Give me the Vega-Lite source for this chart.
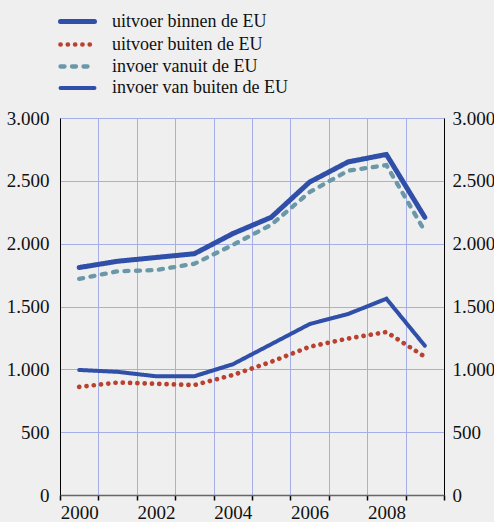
{
  "$schema": "https://vega.github.io/schema/vega-lite/v6.json",
  "width": 384,
  "height": 377,
  "autosize": "none",
  "padding": {"left": 60, "top": 118, "right": 50, "bottom": 27},
  "background": "#efefef",
  "config": {
    "view": {"stroke": null},
    "font": "Liberation Serif",
    "axis": {
      "labelFont": "Liberation Serif",
      "labelFontSize": 19,
      "labelColor": "#111111",
      "domainColor": "#000000",
      "gridColor": "#a6aee8",
      "gridOpacity": 1,
      "gridWidth": 1,
      "title": null
    }
  },
  "data": {
    "values": [
      {"jaar": 2000, "reeks": "uitvoer binnen de EU", "waarde": 1810},
      {"jaar": 2001, "reeks": "uitvoer binnen de EU", "waarde": 1860},
      {"jaar": 2002, "reeks": "uitvoer binnen de EU", "waarde": 1890},
      {"jaar": 2003, "reeks": "uitvoer binnen de EU", "waarde": 1920},
      {"jaar": 2004, "reeks": "uitvoer binnen de EU", "waarde": 2080},
      {"jaar": 2005, "reeks": "uitvoer binnen de EU", "waarde": 2210},
      {"jaar": 2006, "reeks": "uitvoer binnen de EU", "waarde": 2490},
      {"jaar": 2007, "reeks": "uitvoer binnen de EU", "waarde": 2650},
      {"jaar": 2008, "reeks": "uitvoer binnen de EU", "waarde": 2710},
      {"jaar": 2009, "reeks": "uitvoer binnen de EU", "waarde": 2210},
      {"jaar": 2000, "reeks": "uitvoer buiten de EU", "waarde": 860},
      {"jaar": 2001, "reeks": "uitvoer buiten de EU", "waarde": 895},
      {"jaar": 2002, "reeks": "uitvoer buiten de EU", "waarde": 885},
      {"jaar": 2003, "reeks": "uitvoer buiten de EU", "waarde": 875},
      {"jaar": 2004, "reeks": "uitvoer buiten de EU", "waarde": 955},
      {"jaar": 2005, "reeks": "uitvoer buiten de EU", "waarde": 1060},
      {"jaar": 2006, "reeks": "uitvoer buiten de EU", "waarde": 1180},
      {"jaar": 2007, "reeks": "uitvoer buiten de EU", "waarde": 1245},
      {"jaar": 2008, "reeks": "uitvoer buiten de EU", "waarde": 1297},
      {"jaar": 2009, "reeks": "uitvoer buiten de EU", "waarde": 1100},
      {"jaar": 2000, "reeks": "invoer vanuit de EU", "waarde": 1720},
      {"jaar": 2001, "reeks": "invoer vanuit de EU", "waarde": 1780},
      {"jaar": 2002, "reeks": "invoer vanuit de EU", "waarde": 1790},
      {"jaar": 2003, "reeks": "invoer vanuit de EU", "waarde": 1840},
      {"jaar": 2004, "reeks": "invoer vanuit de EU", "waarde": 1990},
      {"jaar": 2005, "reeks": "invoer vanuit de EU", "waarde": 2150},
      {"jaar": 2006, "reeks": "invoer vanuit de EU", "waarde": 2410},
      {"jaar": 2007, "reeks": "invoer vanuit de EU", "waarde": 2580},
      {"jaar": 2008, "reeks": "invoer vanuit de EU", "waarde": 2625},
      {"jaar": 2009, "reeks": "invoer vanuit de EU", "waarde": 2100},
      {"jaar": 2000, "reeks": "invoer van buiten de EU", "waarde": 995},
      {"jaar": 2001, "reeks": "invoer van buiten de EU", "waarde": 980},
      {"jaar": 2002, "reeks": "invoer van buiten de EU", "waarde": 945},
      {"jaar": 2003, "reeks": "invoer van buiten de EU", "waarde": 945},
      {"jaar": 2004, "reeks": "invoer van buiten de EU", "waarde": 1040},
      {"jaar": 2005, "reeks": "invoer van buiten de EU", "waarde": 1200},
      {"jaar": 2006, "reeks": "invoer van buiten de EU", "waarde": 1360},
      {"jaar": 2007, "reeks": "invoer van buiten de EU", "waarde": 1440},
      {"jaar": 2008, "reeks": "invoer van buiten de EU", "waarde": 1562},
      {"jaar": 2009, "reeks": "invoer van buiten de EU", "waarde": 1188}
    ]
  },
  "layer": [
    {
      "mark": {"type": "line", "strokeCap": "round", "strokeJoin": "miter"},
      "encoding": {
        "x": {
          "field": "jaar",
          "type": "ordinal",
          "bandPosition": 0.5,
          "scale": {"type": "band", "paddingInner": 0, "paddingOuter": 0},
          "axis": {
            "labelAngle": 0,
            "tickBand": "extent",
            "grid": true,
            "ticks": true,
            "tickColor": "#000000",
            "tickSize": 5,
            "tickWidth": 1.5,
            "domainColor": "#666666",
            "domainWidth": 1.5,
            "labelFontSize": 19,
            "labelPadding": 3,
            "labelExpr": "datum.value % 2 == 0 ? datum.label : ''"
          }
        },
        "y": {
          "field": "waarde",
          "type": "quantitative",
          "scale": {"domain": [0, 3000], "nice": false},
          "axis": {
            "orient": "left",
            "values": [0, 500, 1000, 1500, 2000, 2500, 3000],
            "ticks": false,
            "grid": true,
            "labelPadding": 11,
            "labelExpr": "replace(format(datum.value, ','), ',', '.')"
          }
        },
        "color": {
          "field": "reeks",
          "type": "nominal",
          "scale": {
            "domain": ["uitvoer binnen de EU", "uitvoer buiten de EU", "invoer vanuit de EU", "invoer van buiten de EU"],
            "range": ["#2f4fa8", "#b8412f", "#6a98a8", "#2f4fa8"]
          },
          "legend": {
            "title": null,
            "orient": "none",
            "legendX": 5,
            "legendY": -109,
            "padding": 0,
            "symbolType": "M-1.7,0L1.7,0",
            "symbolSize": 400,
            "labelFont": "Liberation Serif",
            "labelFontSize": 18,
            "labelColor": "#111111",
            "labelOffset": 22,
            "rowPadding": -2.5,
            "labelLimit": 400,
            "encode": {"symbols": {"update": {"strokeCap": {"value": "round"}, "fill": {"value": "transparent"}}}}
          }
        },
        "strokeDash": {
          "field": "reeks",
          "type": "nominal",
          "scale": {
            "domain": ["uitvoer binnen de EU", "uitvoer buiten de EU", "invoer vanuit de EU", "invoer van buiten de EU"],
            "range": [[1, 0], [0.1, 7.2], [4, 7.5], [1, 0]]
          },
          "legend": null
        },
        "strokeWidth": {
          "field": "reeks",
          "type": "nominal",
          "scale": {
            "domain": ["uitvoer binnen de EU", "uitvoer buiten de EU", "invoer vanuit de EU", "invoer van buiten de EU"],
            "range": [5, 4, 4.5, 2.4]
          },
          "legend": null
        }
      }
    },
    {
      "mark": {"type": "line", "opacity": 0},
      "encoding": {
        "x": {
          "field": "jaar",
          "type": "ordinal",
          "bandPosition": 0.5,
          "scale": {"type": "band", "paddingInner": 0, "paddingOuter": 0}
        },
        "y": {
          "field": "waarde",
          "type": "quantitative",
          "axis": {
            "orient": "right",
            "values": [0, 500, 1000, 1500, 2000, 2500, 3000],
            "ticks": false,
            "grid": false,
            "labelPadding": 8,
            "labelExpr": "replace(format(datum.value, ','), ',', '.')"
          }
        },
        "detail": {"field": "reeks"}
      }
    }
  ],
  "resolve": {"axis": {"y": "independent"}}
}
